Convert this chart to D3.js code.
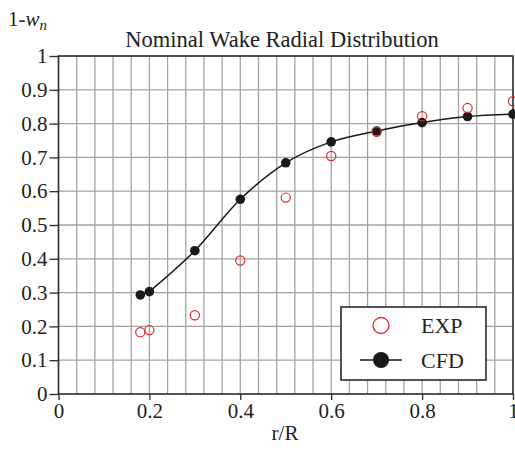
<!DOCTYPE html>
<html>
<head>
<meta charset="utf-8">
<script src="https://cdn.jsdelivr.net/npm/d3@7"></script>
<style>
  html, body { margin: 0; padding: 0; background: #fff; }
  svg { display: block; font-family: "Liberation Serif", "Times New Roman", serif; }
</style>
</head>
<body>
<svg id="chart" width="515" height="451"></svg>
<script>
// Data
const cfdR   = [0.18, 0.20, 0.30, 0.40, 0.50, 0.60, 0.70, 0.80, 0.90, 1.00];
const cfdVal = [0.293, 0.303, 0.424, 0.576, 0.684, 0.746, 0.778, 0.803, 0.821, 0.828];
const expR   = [0.18, 0.20, 0.30, 0.40, 0.50, 0.60, 0.70, 0.80, 0.90, 1.00];
const expVal = [0.183, 0.189, 0.233, 0.395, 0.581, 0.704, 0.776, 0.822, 0.846, 0.866];
const xTicks = [0, 0.2, 0.4, 0.6, 0.8, 1];
const xTickLabels = ["0", "0.2", "0.4", "0.6", "0.8", "1"];
const yTicks = [0, 0.1, 0.2, 0.3, 0.4, 0.5, 0.6, 0.7, 0.8, 0.9, 1];
const yTickLabels = ["0", "0.1", "0.2", "0.3", "0.4", "0.5", "0.6", "0.7", "0.8", "0.9", "1"];
const xGrid = d3.range(0, 26).map(i => i * 0.04);
const seriesNames = ["EXP", "CFD"];
const titleText = "Nominal Wake Radial Distribution";

const svg = d3.select("#chart");
const L = 58.5, R = 513, T = 56, B = 394;
const x = d3.scaleLinear().domain([0, 1]).range([L, R]);
const y = d3.scaleLinear().domain([0, 1]).range([B, T]);

const red = "#e3262b";
const dark = "#1a1a1a";

// grid
const g = svg.append("g");
g.selectAll("line.vg").data(xGrid.slice(1, -1)).enter().append("line")
  .attr("x1", d => x(d)).attr("x2", d => x(d)).attr("y1", T).attr("y2", B)
  .attr("stroke", "#a3a3a3").attr("stroke-width", 1.3);
g.selectAll("line.hg").data(yTicks.slice(1, -1)).enter().append("line")
  .attr("x1", L).attr("x2", R).attr("y1", d => y(d)).attr("y2", d => y(d))
  .attr("stroke", "#a3a3a3").attr("stroke-width", 1.3);

// frame
svg.append("rect").attr("x", L).attr("y", T).attr("width", R - L).attr("height", B - T)
  .attr("fill", "none").attr("stroke", "#2a2a2a").attr("stroke-width", 1.6);

// axes
const xAxis = d3.axisBottom(x).tickValues(xTicks).tickSize(6).tickPadding(3)
  .tickFormat((d, i) => xTickLabels[i]);
const gx = svg.append("g").attr("transform", `translate(0,${B})`).call(xAxis);
gx.select(".domain").remove();
gx.selectAll("line").attr("stroke", "#2a2a2a").attr("stroke-width", 1.3);
gx.selectAll("text").attr("font-size", 21).attr("font-family", "Liberation Serif").attr("fill", "#222");

const yAxis = d3.axisLeft(y).tickValues(yTicks).tickSize(9).tickPadding(2)
  .tickFormat((d, i) => yTickLabels[i]);
const gy = svg.append("g").attr("transform", `translate(${L},0)`).call(yAxis);
gy.select(".domain").remove();
gy.selectAll("line").attr("stroke", "#2a2a2a").attr("stroke-width", 1.3);
gy.selectAll("text").attr("font-size", 21).attr("font-family", "Liberation Serif").attr("fill", "#222");

// CFD line
const cfd = cfdR.map((r, i) => [r, cfdVal[i]]);
const exp = expR.map((r, i) => [r, expVal[i]]);
const lineLin = d3.line().x(d => x(d[0])).y(d => y(d[1]));
const lineSmooth = d3.line().x(d => x(d[0])).y(d => y(d[1])).curve(d3.curveMonotoneX);
svg.append("path").datum(cfd.slice(0, 2)).attr("d", lineLin)
  .attr("fill", "none").attr("stroke", dark).attr("stroke-width", 1.5);
svg.append("path").datum(cfd.slice(1)).attr("d", lineSmooth)
  .attr("fill", "none").attr("stroke", dark).attr("stroke-width", 1.5);

svg.append("g").selectAll("circle").data(cfd).enter().append("circle")
  .attr("cx", d => x(d[0])).attr("cy", d => y(d[1])).attr("r", 4.8).attr("fill", dark);

svg.append("g").selectAll("circle").data(exp).enter().append("circle")
  .attr("cx", d => x(d[0])).attr("cy", d => y(d[1])).attr("r", 4.6)
  .attr("fill", "none").attr("stroke", red).attr("stroke-width", 1.2);

// title
svg.append("text").attr("x", 282).attr("y", 47).attr("text-anchor", "middle")
  .attr("font-size", 22.5).attr("fill", "#222").text(titleText);

// y label
const yl = svg.append("text").attr("x", 8).attr("y", 26).attr("font-size", 21).attr("fill", "#222");
yl.append("tspan").text("1-");
yl.append("tspan").attr("font-style", "italic").text("w");
yl.append("tspan").attr("font-style", "italic").attr("font-size", 15).attr("dy", 4).text("n");

// x label
svg.append("text").attr("x", 285).attr("y", 440).attr("text-anchor", "middle")
  .attr("font-size", 21).attr("fill", "#222").text("r/R");

// legend
const lg = svg.append("g");
lg.append("rect").attr("x", 341).attr("y", 307).attr("width", 145).attr("height", 73)
  .attr("fill", "#fff").attr("stroke", "#2a2a2a").attr("stroke-width", 1.6);
lg.append("circle").attr("cx", 381).attr("cy", 325.5).attr("r", 8)
  .attr("fill", "none").attr("stroke", red).attr("stroke-width", 1.3);
lg.append("text").attr("x", 421).attr("y", 333).attr("font-size", 22).attr("fill", "#222").text(seriesNames[0]);
lg.append("line").attr("x1", 360).attr("x2", 402).attr("y1", 360).attr("y2", 360)
  .attr("stroke", dark).attr("stroke-width", 1.5);
lg.append("circle").attr("cx", 381).attr("cy", 360).attr("r", 8).attr("fill", dark);
lg.append("text").attr("x", 421).attr("y", 367.5).attr("font-size", 22).attr("fill", "#222").text(seriesNames[1]);
</script>
</body>
</html>
